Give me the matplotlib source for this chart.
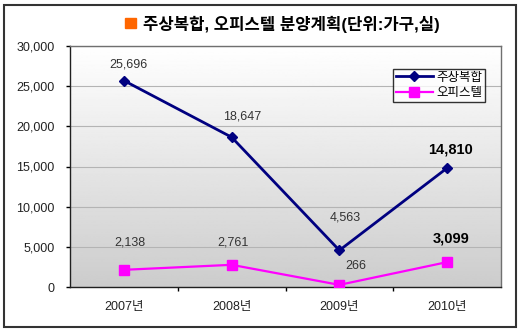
import numpy as np
import matplotlib.pyplot as plt
from matplotlib.patches import Rectangle

plt.rcParams['font.family'] = ['Liberation Sans', 'Noto Sans CJK KR']

years = ['2007년', '2008년', '2009년', '2010년']
complex_units = [25696, 18647, 4563, 14810]
officetel_units = [2138, 2761, 266, 3099]
complex_name = '주상복합'
officetel_name = '오피스텔'
title = '주상복합, 오피스텔 분양계획(단위:가구,실)'

# label offsets in pixels (dx, dy)
complex_off = [(5, 16), (11, 21), (6, 33), (3, 19)]
officetel_off = [(6, 27), (1, 22), (16, 19), (4, 24)]

fig = plt.figure(figsize=(5.2, 3.32), dpi=100)
ax = fig.add_axes([70 / 520, 45 / 332, 431 / 520, 241 / 332])
x = np.arange(len(years))

# gradient background
grad = np.linspace(1.0, 0.8, 256).reshape(-1, 1)
ax.imshow(grad, extent=[-0.5, 3.5, 0, 30000], aspect='auto', cmap='gray',
          vmin=0, vmax=1, zorder=0, origin='upper')

ax.plot(x, complex_units, color='#000080', lw=2, marker='D', ms=5.5,
        label=complex_name, zorder=3)
ax.plot(x, officetel_units, color='#ff00ff', lw=1.6, marker='s', ms=7.5,
        label=officetel_name, zorder=3)

px = 72 / 100
for i in range(len(x)):
    bold = i == len(x) - 1
    kw = dict(fontsize=10.5, fontweight='bold', color='black') if bold else dict(fontsize=9, color='#333333')
    dx, dy = complex_off[i]
    ax.annotate(f'{complex_units[i]:,}', (x[i], complex_units[i]), xytext=(dx * px, dy * px),
                textcoords='offset points', ha='center', va='center', **kw)
    dx, dy = officetel_off[i]
    ax.annotate(f'{officetel_units[i]:,}', (x[i], officetel_units[i]), xytext=(dx * px, dy * px),
                textcoords='offset points', ha='center', va='center', **kw)

ax.set_xlim(-0.5, 3.5)
ax.set_ylim(0, 30000)
ax.set_yticks(range(0, 30001, 5000))
ax.set_yticklabels([f'{v:,}' for v in range(0, 30001, 5000)], fontsize=9, color='#222222')
ax.yaxis.grid(True, color='#b4b4b4', lw=0.8)
ax.set_axisbelow(True)
ax.set_xticks([0.5, 1.5, 2.5])
ax.set_xticklabels([])
ax.set_xticks(x, minor=True)
ax.set_xticklabels(years, minor=True, fontsize=9, color='#222222')
ax.tick_params(axis='x', which='minor', length=0, pad=10)
ax.tick_params(axis='x', which='major', length=3, width=1, direction='out')
ax.tick_params(axis='y', length=3, width=1, pad=8)
for s in ax.spines.values():
    s.set_color('#202020')
    s.set_linewidth(1)
ax.spines['top'].set_color('#707070')
ax.spines['right'].set_color('#707070')

leg = ax.legend(loc='upper left', bbox_to_anchor=(393 / 520, 1 - 69 / 332),
                bbox_transform=fig.transFigure, fontsize=9, frameon=True,
                fancybox=False, edgecolor='black', handlelength=3.0,
                borderpad=0.2, labelspacing=0.3, handletextpad=0.3,
                borderaxespad=0)
leg.get_frame().set_linewidth(1)

fig.patches.append(Rectangle((125 / 520, 1 - 28 / 332), 11 / 520, 10 / 332,
                             transform=fig.transFigure, color='#ff6600'))
fig.text(143 / 520, 1 - 24 / 332, title, fontsize=12, fontweight='bold', va='center', ha='left')

fig.patches.append(Rectangle((4 / 520, 5 / 332), 512 / 520, 322 / 332, transform=fig.transFigure,
                             fill=False, edgecolor='#333333', lw=1.5))

plt.savefig('out.png', dpi=100)
